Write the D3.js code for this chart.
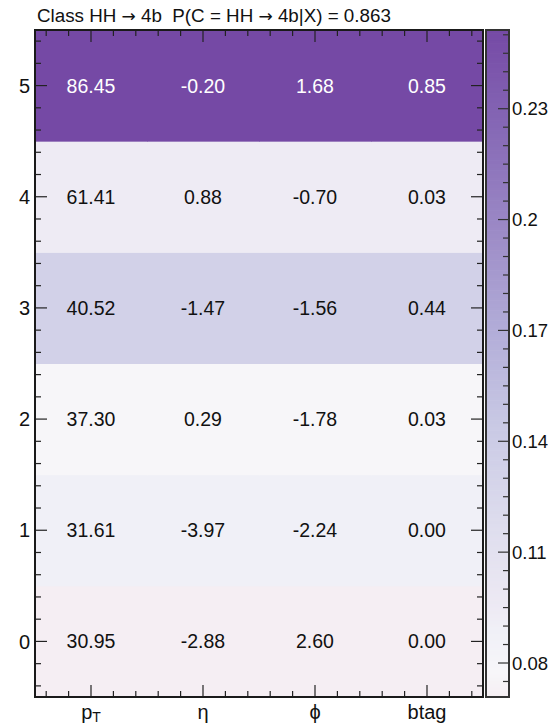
<!DOCTYPE html>
<html><head><meta charset="utf-8">
<script src="https://cdn.jsdelivr.net/npm/d3@7"></script>
<style>html,body{margin:0;padding:0;background:#fff;}svg{display:block;font-family:"Liberation Sans",Arial,Helvetica,sans-serif;}text{white-space:pre;}</style>
</head><body><svg id="c" width="554" height="727"></svg>
<script>
// ---- data ----
const features = ["pT", "η", "ϕ", "btag"];
const rows = [0, 1, 2, 3, 4, 5];
const rowWeights = [0.0708, 0.0885, 0.0780, 0.1330, 0.0935, 0.2513];
const cellValues = [
  ["30.95", "-2.88", "2.60", "0.00"],
  ["31.61", "-3.97", "-2.24", "0.00"],
  ["37.30", "0.29", "-1.78", "0.03"],
  ["40.52", "-1.47", "-1.56", "0.44"],
  ["61.41", "0.88", "-0.70", "0.03"],
  ["86.45", "-0.20", "1.68", "0.85"]
];
const colorbarTicks = [0.08, 0.11, 0.14, 0.17, 0.2, 0.23];
const colorbarTickLabels = ["0.08", "0.11", "0.14", "0.17", "0.2", "0.23"];
const titleParts = ["Class HH ", "\u2192", " 4b  P(C = HH ", "\u2192", " 4b|X) = 0.863"];

// ---- layout ----
const L = 35, R = 483, T = 30, B = 697;
const cbL = 486, cbR = 509;
const svg = d3.select("#c");

const x = d3.scaleLinear().domain([-0.5, 3.5]).range([L, R]);
const y = d3.scaleLinear().domain([-0.5, 5.5]).range([B, T]);
const wMin = d3.min(rowWeights), wMax = d3.max(rowWeights);
const cy = d3.scaleLinear().domain([wMin, wMax]).range([B, T]);

const stopT = [0, 0.04, 0.10, 0.13, 0.25, 0.40, 0.55, 0.70, 0.85, 1];
const stopC = ["#f5eef3", "#f7f6f9", "#f0f0f7", "#eeeaf4", "#dfdeee", "#cacae5", "#b2add8", "#9c8ac6", "#8669b6", "#7549a5"];
const pal = d3.scaleLinear().domain(stopT).range(stopC).interpolate(d3.interpolateRgb);
const color = v => pal((v - wMin) / (wMax - wMin));

// cells
rows.forEach(r => {
  features.forEach((f, c) => {
    svg.append("rect")
      .attr("x", x(c - 0.5)).attr("y", y(r + 0.5))
      .attr("width", x(c + 0.5) - x(c - 0.5) + 0.5)
      .attr("height", y(r - 0.5) - y(r + 0.5) + 0.5)
      .attr("fill", color(rowWeights[r]));
  });
});
rows.forEach(r => {
  features.forEach((f, c) => {
    svg.append("text")
      .attr("x", x(c)).attr("y", y(r))
      .attr("dy", "0.36em")
      .attr("text-anchor", "middle")
      .attr("font-size", 19.5)
      .attr("fill", rowWeights[r] > 0.2 ? "#fff" : "#111")
      .text(cellValues[r][c]);
  });
});

// ticks on main frame
const tickCol = "#222";
const xt = d3.range(-0.4, 3.41, 0.2).map(v => Math.round(v * 10) / 10);
xt.forEach(v => {
  const major = Math.abs(v - Math.round(v)) < 1e-6;
  const len = major ? 12 : 6;
  svg.append("line").attr("x1", x(v)).attr("x2", x(v)).attr("y1", B).attr("y2", B - len).attr("stroke", tickCol).attr("stroke-width", 1.2);
  svg.append("line").attr("x1", x(v)).attr("x2", x(v)).attr("y1", T).attr("y2", T + len).attr("stroke", tickCol).attr("stroke-width", 1.2);
});
const yt = d3.range(-0.4, 5.41, 0.2).map(v => Math.round(v * 10) / 10);
yt.forEach(v => {
  const major = Math.abs(v - Math.round(v)) < 1e-6;
  const len = major ? 12 : 6;
  svg.append("line").attr("x1", L).attr("x2", L + len).attr("y1", y(v)).attr("y2", y(v)).attr("stroke", tickCol).attr("stroke-width", 1.2);
  svg.append("line").attr("x1", R).attr("x2", R - len).attr("y1", y(v)).attr("y2", y(v)).attr("stroke", tickCol).attr("stroke-width", 1.2);
});

// y labels
rows.forEach(r => {
  svg.append("text").attr("x", 30).attr("y", y(r)).attr("dy", "0.36em")
    .attr("text-anchor", "end").attr("font-size", 20).attr("fill", "#111").text(r);
});
// x labels
features.forEach((f, c) => {
  const t = svg.append("text").attr("x", x(c)).attr("y", 719)
    .attr("text-anchor", "middle").attr("font-size", 20).attr("fill", "#111");
  if (f === "pT") {
    t.append("tspan").text("p");
    t.append("tspan").attr("font-size", 14).attr("dy", 3).text("T");
  } else t.text(f);
});

// frame
svg.append("rect").attr("x", L).attr("y", T).attr("width", R - L).attr("height", B - T)
  .attr("fill", "none").attr("stroke", "#1a1a1a").attr("stroke-width", 2);

// colorbar
const nBands = 200;
d3.range(nBands).forEach(i => {
  const v0 = wMin + (wMax - wMin) * i / nBands;
  const v1 = wMin + (wMax - wMin) * (i + 1) / nBands;
  svg.append("rect").attr("x", cbL).attr("width", cbR - cbL)
    .attr("y", cy(v1)).attr("height", cy(v0) - cy(v1) + 0.6)
    .attr("fill", color((v0 + v1) / 2));
});
const cbMinor = d3.range(0.075, wMax, 0.005).map(v => Math.round(v * 1000) / 1000);
cbMinor.forEach(v => {
  if (v < wMin) return;
  const major = colorbarTicks.some(t => Math.abs(t - v) < 1e-6);
  svg.append("line").attr("x1", cbR).attr("x2", cbR - (major ? 11 : 6))
    .attr("y1", cy(v)).attr("y2", cy(v)).attr("stroke", "#333").attr("stroke-width", 1.2);
});
colorbarTicks.forEach((v, i) => {
  svg.append("text").attr("x", cbR + 3).attr("y", cy(v)).attr("dy", "0.36em")
    .attr("font-size", 18.5).attr("fill", "#111").text(colorbarTickLabels[i]);
});
svg.append("rect").attr("x", cbL).attr("y", T).attr("width", cbR - cbL).attr("height", B - T)
  .attr("fill", "none").attr("stroke", "#333").attr("stroke-width", 2);

// title
const title = svg.append("text").attr("x", 37).attr("y", 22).attr("font-size", 18.8).attr("fill", "#111");
titleParts.forEach(p => {
  const s = title.append("tspan").text(p);
  if (p === "\u2192") s.attr("font-family", "DejaVu Sans").attr("font-size", 17);
});
</script></body></html>
